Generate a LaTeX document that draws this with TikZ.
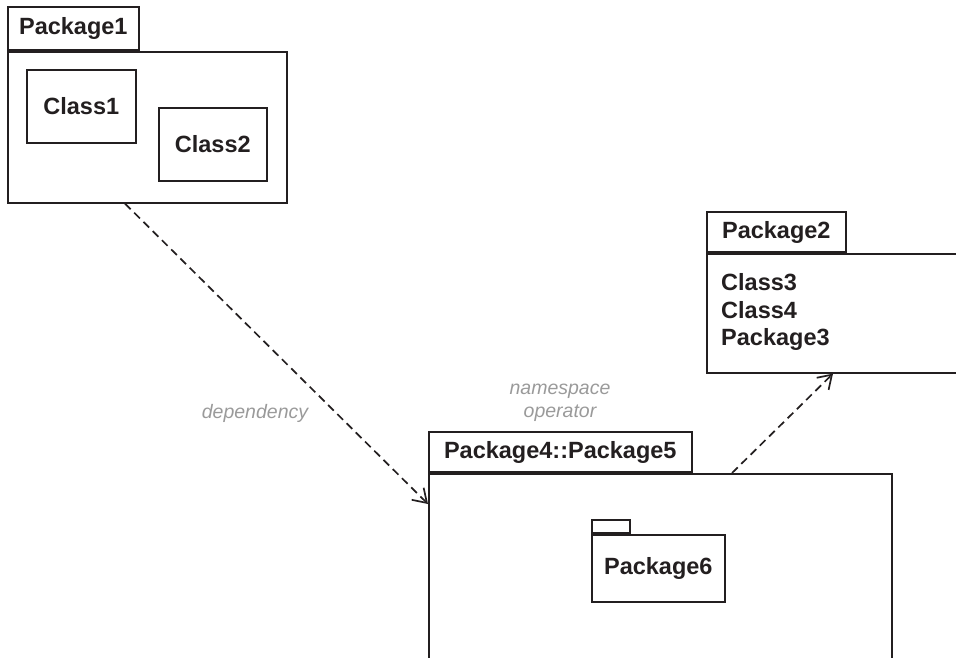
\documentclass[tikz,border=0pt]{standalone}
\usepackage{fontspec}
\setmainfont{Liberation Sans}
\usetikzlibrary{arrows.meta}

\definecolor{umlline}{HTML}{231F20}
\definecolor{umlnote}{HTML}{9A9A9A}

\tikzset{
    pkgtab/.style={draw=umlline,line width=1.6pt,anchor=south west,inner sep=0pt,
        text=umlline,font=\bfseries\fontsize{23.5}{27.5}\selectfont},
    pkgbody/.style={draw=umlline,line width=1.6pt,anchor=north west,inner sep=0pt},
    classbox/.style={draw=umlline,line width=1.6pt,anchor=north west,inner sep=0pt,
        text=umlline,font=\bfseries\fontsize{23.5}{27.5}\selectfont},
    dep/.style={draw=umlline,line width=1.7pt,dash pattern=on 8pt off 5pt,
        -{Straight Barb[length=13pt,width=17pt,line width=1.7pt]}},
    note/.style={text=umlnote,inner sep=0pt,align=center,
        font=\itshape\fontsize{19.5}{22.5}\selectfont}
}

\begin{document}
\begin{tikzpicture}[x=1pt,y=-1pt]
    \clip (0,0) rectangle (956,657);
    % Package1 with two classes
    \node[pkgbody,minimum width=279pt,minimum height=151pt] (p1body) at (7,51) {};
    \node[pkgtab,minimum width=131pt,minimum height=43pt] (p1tab) at (p1body.north west) {Package1};
    \node[classbox,minimum width=109pt,minimum height=73pt] (class1) at (26,69) {Class1};
    \node[classbox,minimum width=108pt,minimum height=73pt] (class2) at (158,107) {Class2};

    % Package2, members listed as text
    \node[pkgbody,minimum width=260pt,minimum height=119pt] (p2body) at (706,253) {};
    \node[pkgtab,minimum width=139pt,minimum height=40pt] (p2tab) at (p2body.north west) {Package2};
    \node[anchor=north west,inner sep=0pt,align=left,text=umlline,
        font=\bfseries\fontsize{23.5}{27.5}\selectfont] (p2list) at (721,273.5)
        {Class3\\Class4\\Package3};

    % Package4::Package5 holding Package6
    \node[pkgbody,minimum width=463pt,minimum height=220pt] (p45body) at (428,473) {};
    \node[pkgtab,minimum width=263pt,minimum height=40pt] (p45tab) at (p45body.north west) {Package4::Package5};
    \node[classbox,minimum width=133pt,minimum height=67pt] (p6body) at (591,534) {Package6};
    \node[pkgtab,minimum width=38pt,minimum height=13pt] (p6tab) at (p6body.north west) {};

    % dependencies
    \draw[dep] ([xshift=118pt]p1body.south west) -- ([yshift=-31pt]p45body.north west);
    \draw[dep] ([xshift=304pt]p45body.north west) -- ([xshift=127pt]p2body.south west);

    \node[note] (deplabel) at (255,413) {dependency};
    \node[note] (nslabel) at (560,403) {namespace\\operator};
\end{tikzpicture}
\end{document}
